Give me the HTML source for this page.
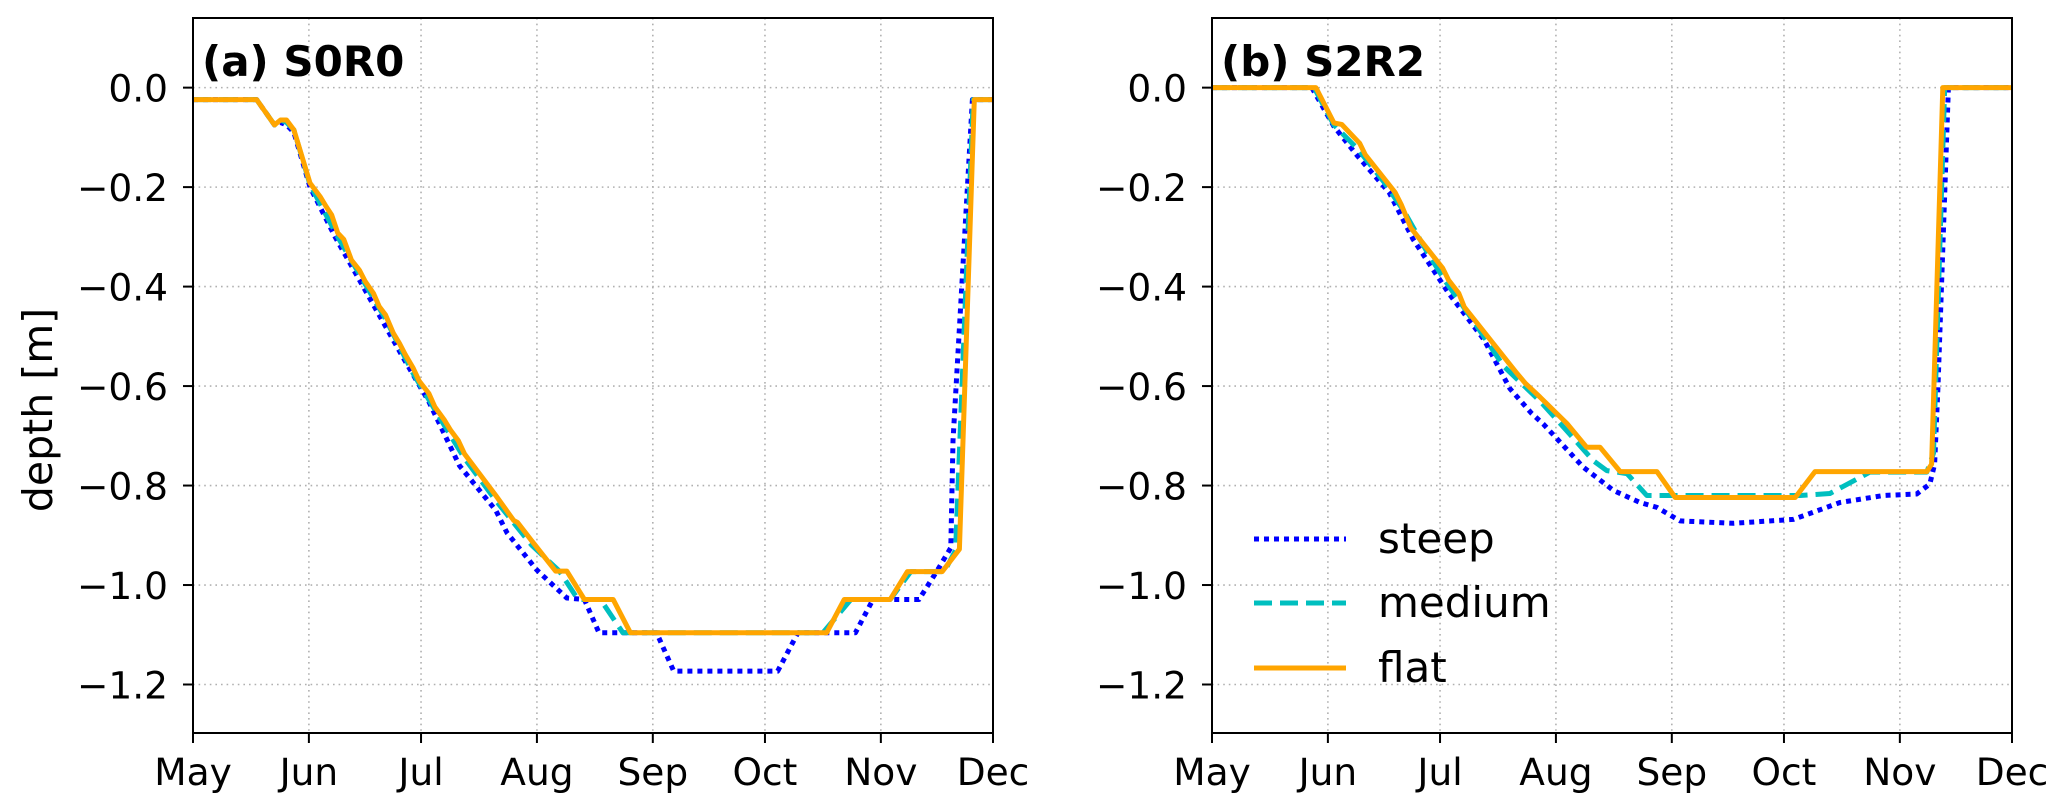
<!DOCTYPE html>
<html><head><meta charset="utf-8"><style>
html,body{margin:0;padding:0;background:#fff;}
svg{display:block;font-family:"DejaVu Sans","Liberation Sans",sans-serif;}
</style></head><body>
<svg id="chart" width="2067" height="812" viewBox="0 0 2067 812" xmlns="http://www.w3.org/2000/svg">
<text x="0" y="0" transform="translate(52,410) rotate(-90)" text-anchor="middle" font-size="41">depth [m]</text>
</svg>
<script>
const monthLabels = ["May","Jun","Jul","Aug","Sep","Oct","Nov","Dec"];
const monthDays = [0,31,61,92,123,153,184,214];
const yTicks = [0,-0.2,-0.4,-0.6,-0.8,-1.0,-1.2];
const yTickLabels = ["0.0","\u22120.2","\u22120.4","\u22120.6","\u22120.8","\u22121.0","\u22121.2"];
const seriesNames = ["steep","medium","flat"];
const panelTitles = ["(a) S0R0","(b) S2R2"];

const aSteepDays = [0,17,21.8,23.4,25,27,31.3,38,44,50,56,63,71.3,81,84,92,100,104.7,108.6,124,128.6,156.4,161.8,177.2,181.9,194.2,198.9,202.7,203.3,208.5,214];
const aSteepVals = [-0.024,-0.024,-0.075,-0.07,-0.075,-0.09,-0.2,-0.3,-0.38,-0.46,-0.54,-0.63,-0.76,-0.85,-0.895,-0.97,-1.026,-1.029,-1.096,-1.096,-1.173,-1.173,-1.096,-1.096,-1.029,-1.029,-0.973,-0.925,-0.71,-0.024,-0.024];
const aMediumDays = [0,17,21.8,23.4,25,27,31.3,38.7,44.5,51.5,58.9,67.3,72.6,81,90.6,98,103,109,115,168.5,176,186.5,192,201,204,208.7,214];
const aMediumVals = [-0.024,-0.024,-0.075,-0.065,-0.07,-0.085,-0.195,-0.3,-0.375,-0.465,-0.575,-0.68,-0.745,-0.83,-0.92,-0.972,-1.029,-1.029,-1.096,-1.096,-1.029,-1.029,-0.973,-0.973,-0.93,-0.024,-0.024];
const aFlatDays = [0,17,21.8,23.4,25,27,31.3,34,35.6,37.1,38.7,40.3,42.4,44.5,46.1,48.3,49.8,51.5,53.6,55.2,56.8,58.9,60.5,63.1,64.7,67.3,68.9,71,72.6,81,85.8,86.8,90.6,97,100,104.7,112.4,117,169.5,174.2,186.5,191.1,200.4,205,209,214];
const aFlatVals = [-0.024,-0.024,-0.075,-0.065,-0.065,-0.085,-0.192,-0.219,-0.239,-0.256,-0.292,-0.305,-0.347,-0.367,-0.39,-0.414,-0.44,-0.457,-0.494,-0.514,-0.537,-0.564,-0.59,-0.615,-0.642,-0.669,-0.689,-0.71,-0.736,-0.82,-0.87,-0.874,-0.911,-0.972,-0.972,-1.029,-1.029,-1.096,-1.096,-1.029,-1.029,-0.973,-0.973,-0.928,-0.024,-0.024];

const bSteepDays = [0,26.7,32.6,39,47.4,53.8,63.3,72.8,79.7,85.5,88.6,99.3,107.4,114.5,119,125.2,139.5,155.5,161.8,168,179.6,188.5,192,193.3,194.2,197,214];
const bSteepVals = [0,0,-0.078,-0.138,-0.211,-0.305,-0.413,-0.507,-0.605,-0.655,-0.676,-0.763,-0.81,-0.834,-0.844,-0.871,-0.876,-0.868,-0.851,-0.834,-0.82,-0.817,-0.797,-0.757,-0.6,0,0];
const bMediumDays = [0,27.3,32.6,39.2,46,51.5,57.5,62.5,70,78,87.7,94.9,102,105.6,111,116.3,157.3,165.3,172.5,176,191.2,193,196,214];
const bMediumVals = [0,0,-0.075,-0.125,-0.19,-0.25,-0.33,-0.39,-0.47,-0.56,-0.63,-0.69,-0.75,-0.77,-0.776,-0.82,-0.82,-0.816,-0.787,-0.773,-0.773,-0.735,0,0];
const bFlatDays = [0,27.8,32.6,34.7,39.5,41,44.8,49,50.6,53.2,61.7,63.3,66,67.5,81.3,83.9,87.7,94.9,100.2,103.8,109.2,119,123.9,156,161.3,191.2,192.5,195.5,214];
const bFlatVals = [0,0,-0.071,-0.074,-0.112,-0.135,-0.171,-0.211,-0.235,-0.282,-0.363,-0.387,-0.413,-0.441,-0.572,-0.595,-0.622,-0.675,-0.723,-0.723,-0.772,-0.772,-0.824,-0.824,-0.772,-0.772,-0.757,0,0];

const NS = "http://www.w3.org/2000/svg";
const svg = document.getElementById("chart");
function mk(tag, attrs, parent){const e=document.createElementNS(NS,tag);for(const k in attrs)e.setAttribute(k,attrs[k]);(parent||svg).appendChild(e);return e;}

const Y0 = 18, Y1 = 733, YMAX = 0.14, YMIN = -1.2975;
const panels = [
  {left:193,right:993,key:"a",series:[[aSteepDays,aSteepVals],[aMediumDays,aMediumVals],[aFlatDays,aFlatVals]]},
  {left:1212,right:2012,key:"b",series:[[bSteepDays,bSteepVals],[bMediumDays,bMediumVals],[bFlatDays,bFlatVals]]}
];
const styles = [
  {stroke:"#0000ff",dash:"5 5"},
  {stroke:"#00bfbf",dash:"18 8"},
  {stroke:"#ffa500",dash:null}
];

panels.forEach((p,pi)=>{
  const xs = d => p.left + d/214*(p.right-p.left);
  const ys = v => Y0 + (YMAX - v)/(YMAX - YMIN)*(Y1-Y0);
  const g = mk("g",{});
  
  
  monthDays.forEach((d,i)=>{
    if(i===0||i===monthDays.length-1) return;
    const l = mk("line",{x1:xs(d),x2:xs(d),y1:Y0,y2:Y1,stroke:"#b0b0b0","stroke-width":1.6,"stroke-dasharray":"1.6 4"},g);
    
    
  });
  yTicks.forEach(v=>{
    const l = mk("line",{x1:p.left,x2:p.right,y1:ys(v),y2:ys(v),stroke:"#b0b0b0","stroke-width":1.6,"stroke-dasharray":"1.6 4"},g);
    
    
  });
  p.series.forEach((s,si)=>{
    const pts = s[0].map((d,i)=>xs(d).toFixed(1)+","+ys(s[1][i]).toFixed(1)).join(" ");
    const attrs = {points:pts,fill:"none",stroke:styles[si].stroke,"stroke-width":5,"stroke-linejoin":"round"};
    if(styles[si].dash) attrs["stroke-dasharray"]=styles[si].dash;
    const pl = mk("polyline",attrs,g);
    
    
  });
  const fr = mk("rect",{x:p.left,y:Y0,width:p.right-p.left,height:Y1-Y0,fill:"none",stroke:"#000","stroke-width":2},g);
  
  
  monthDays.forEach((d,i)=>{
    const t = mk("line",{x1:xs(d),x2:xs(d),y1:Y1,y2:Y1+10,stroke:"#000","stroke-width":2},g);
    
    
    const tx = mk("text",{x:xs(d),y:785,"text-anchor":"middle","font-size":37.5},g);
    tx.textContent = monthLabels[i];
    
    
  });
  yTicks.forEach((v,i)=>{
    const t = mk("line",{x1:p.left-10,x2:p.left,y1:ys(v),y2:ys(v),stroke:"#000","stroke-width":2},g);
    
    
    const tx = mk("text",{x:p.left-25,y:ys(v)+14,"text-anchor":"end","font-size":37.5},g);
    tx.textContent = yTickLabels[i];
    
    
  });
  const tt = mk("text",{x:p.left+9,y:76,"font-size":42,"font-weight":"bold"},g);
  tt.textContent = panelTitles[pi];
  
  
});

const lg = mk("g",{});


const legendY = [539,603,668];
seriesNames.forEach((n,i)=>{
  const attrs = {x1:1254,x2:1346,y1:legendY[i],y2:legendY[i],stroke:styles[i].stroke,"stroke-width":5};
  if(styles[i].dash) attrs["stroke-dasharray"]=styles[i].dash;
  const l = mk("line",attrs,lg);
  
  
  const t = mk("text",{x:1378,y:legendY[i]+14,"font-size":42},lg);
  t.textContent = n;
  
  
});
</script>
</body></html>
